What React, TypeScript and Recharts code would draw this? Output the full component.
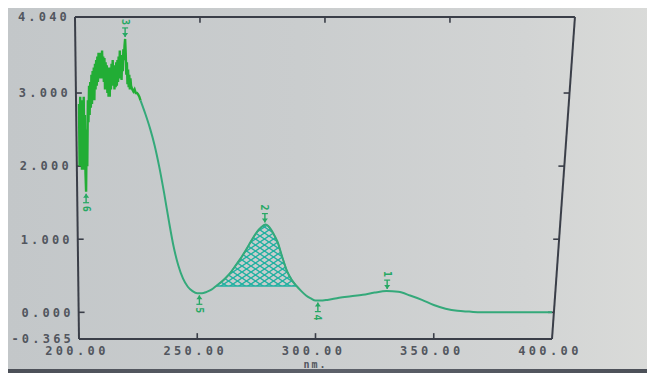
import React from 'react';
import { ComposedChart, Line, Area, Scatter, XAxis, YAxis, ReferenceLine } from 'recharts';

// ---- data ----
const noisyNm = [
  200, 200.25, 200.5, 200.75, 201, 201.25, 201.5, 201.75, 202, 202.25, 202.5, 202.75, 203, 203.25, 203.5, 203.75,
  204, 204.25, 204.5, 204.75, 205, 205.25, 205.5, 205.75, 206, 206.25, 206.5, 206.75,
  207, 207.25, 207.5, 207.75, 208, 208.25, 208.5, 208.75, 209, 209.25, 209.5, 209.75, 210, 210.25, 210.5, 210.75,
  211, 211.25, 211.5, 211.75, 212, 212.25, 212.5, 212.75, 213, 213.25, 213.5, 213.75,
  214, 214.25, 214.5, 214.75, 215, 215.25, 215.5, 215.75, 216, 216.25, 216.5, 216.75,
  217, 217.25, 217.5, 217.75, 218, 218.25, 218.5, 218.75, 219, 219.25, 219.5, 219.75,
  220, 220.25, 220.5, 220.75, 221, 221.25, 221.5, 221.75,
  222, 222.5, 223, 223.5, 224, 224.5, 225, 225.5, 226,
];
const noisyAbs = [
  2.85, 2.0, 2.95, 2.05, 2.8, 1.95, 2.9, 2.1, 2.95, 1.95, 2.7, 1.9, 1.65, 2.5, 2.0, 2.9,
  2.6, 3.1, 2.7, 3.15, 2.8, 3.25, 2.85, 3.3, 2.95, 3.35, 2.9, 3.4,
  3.05, 3.45, 3.1, 3.5, 3.15, 3.55, 3.2, 3.45, 3.25, 3.55, 3.2, 3.58, 3.3, 3.5, 3.15, 3.48,
  3.05, 3.42, 3.1, 3.38, 3.0, 3.35, 2.95, 3.3, 2.95, 3.35, 3.05, 3.4,
  3.1, 3.45, 3.15, 3.38, 3.05, 3.35, 3.08, 3.42, 3.1, 3.45, 3.15, 3.5,
  3.2, 3.58, 3.25, 3.52, 3.18, 3.5, 3.3, 3.6, 3.45, 3.65, 3.74, 3.55,
  3.25, 3.42, 3.12, 3.32, 3.08, 3.25, 3.05, 3.2,
  3.1, 3.05, 3.02, 3.05, 3.0, 3.0, 2.98, 2.95, 2.9,
];

const smoothNm = [
  226, 228, 230, 232, 234, 236, 238, 240, 242, 244, 246, 248, 250, 252, 254, 256, 258, 260, 262, 264,
  266, 268, 270, 272, 274, 276, 278, 279, 280, 282, 284, 286, 288, 290, 292, 294, 296, 298, 300, 302,
  305, 310, 315, 320, 325, 330, 335, 340, 345, 350, 355, 360, 365, 370, 380, 390, 400,
];
const smoothAbs = [
  2.9, 2.72, 2.52, 2.28, 1.98, 1.63, 1.25, 0.9, 0.64, 0.46, 0.35, 0.29, 0.26, 0.26, 0.28, 0.31, 0.36, 0.41, 0.47, 0.54,
  0.63, 0.72, 0.82, 0.93, 1.04, 1.13, 1.19, 1.2, 1.18, 1.09, 0.96, 0.75, 0.56, 0.44, 0.36, 0.29, 0.23, 0.19, 0.16, 0.16,
  0.17, 0.2, 0.22, 0.24, 0.27, 0.29, 0.28, 0.23, 0.17, 0.1, 0.05, 0.02, 0.01, 0.0, 0.0, 0.0, 0.0,
];

// integrated (hatched) band
const bandStart = 258;
const bandEnd = 292;
const bandBase = 0.36;

// peak / valley markers
const markNm = [219.5, 278.6, 330.3, 203, 250.9, 301];
const markAbs = [3.74, 1.2, 0.29, 1.65, 0.26, 0.16];
const markLabel = ['3', '2', '1', '6', '5', '4'];
const markDir = ['up', 'up', 'up', 'down', 'down', 'down'];

const xTicks = [200, 250, 300, 350, 400];
const yTicks = [-0.365, 0, 1, 2, 3, 4.04];
const xMin = 200, xMax = 400, yMin = -0.365, yMax = 4.04;

// ---- derived tables ----
const noisyData = noisyNm.map((nm, i) => ({ nm, abs: noisyAbs[i] }));
const smoothData = smoothNm.map((nm, i) => ({ nm, abs: smoothAbs[i] }));
const bandData = smoothData
  .filter((d) => d.nm >= bandStart && d.nm <= bandEnd)
  .map((d) => ({ nm: d.nm, range: [bandBase, d.abs] }));
const markData = markNm.map((nm, i) => ({ nm, abs: markAbs[i], label: markLabel[i], dir: markDir[i] }));

// photo perspective of the frame (in axis units)
const leftLean = -1.7;
const rightLean = 9.7;
const frac = (v: number) => (v - yMin) / (yMax - yMin);
const leftX = (v: number) => xMin + leftLean * frac(v);
const rightX = (v: number) => xMax + rightLean * frac(v);
const topX = (n: number) => xMin + leftLean + (n - xMin) * ((xMax + rightLean - (xMin + leftLean)) / (xMax - xMin));

const FRAME = '#3a3e48';
const TEXT = '#52565e';
const FONT = '"DejaVu Sans Mono", monospace';

const YTick = (props: any) => {
  const { x, y, payload } = props;
  const v = payload.value as number;
  const shift = 4 * frac(v);
  return (
    <text x={x - 5 - shift} y={y} dy={4.3} textAnchor="end" fill={TEXT} fontFamily={FONT} fontSize={12} fontWeight={700} letterSpacing={3.2}>
      {v.toFixed(3)}
    </text>
  );
};

const XTick = (props: any) => {
  const { x, y, payload } = props;
  const v = payload.value as number;
  return (
    <text x={x - 2} y={y} dy={16} textAnchor="middle" fill={TEXT} fontFamily={FONT} fontSize={12} fontWeight={700} letterSpacing={3.4}>
      {v.toFixed(2)}
    </text>
  );
};

const MARK = '#27a864';
const PeakMark = (props: any) => {
  const { cx, cy, payload } = props;
  if (cx == null || cy == null) return null;
  const up = payload.dir === 'up';
  const s = up ? -1 : 1;
  const tip = cy + s * 2;
  const tail = cy + s * 11;
  const ly = cy + s * 17;
  return (
    <g>
      <line x1={cx} y1={tail} x2={cx} y2={tip} stroke={MARK} strokeWidth={1.4} />
      <line x1={cx - 3} y1={tail} x2={cx + 3} y2={tail} stroke={MARK} strokeWidth={1.2} />
      <polygon points={`${cx - 3},${tip + s * 4} ${cx + 3},${tip + s * 4} ${cx},${tip}`} fill={MARK} />
      <text
        x={cx}
        y={ly}
        dy={3.5}
        textAnchor="middle"
        fontFamily={FONT}
        fontSize={10}
        fontWeight={700}
        fill={MARK}
        transform={`rotate(90, ${cx}, ${ly})`}
      >
        {payload.label}
      </text>
    </g>
  );
};

const seg = (x1: number, y1: number, x2: number, y2: number, key: string, w = 2) => (
  <ReferenceLine
    key={key}
    segment={[{ x: x1, y: y1 }, { x: x2, y: y2 }]}
    stroke={FRAME}
    strokeWidth={w}
    ifOverflow="visible"
  />
);

export default function App() {
  const tickV = 0.08;
  const tickH = 2.5;
  const frame = [
    seg(xMin, yMin, xMax, yMin, 'b'),
    seg(xMin, yMin, leftX(yMax), yMax, 'l'),
    seg(leftX(yMax), yMax, rightX(yMax), yMax, 't'),
    seg(xMax, yMin, rightX(yMax), yMax, 'r'),
    ...[250, 300, 350].map((n) => seg(n, yMin, n, yMin + tickV, 'bt' + n, 1.6)),
    ...[250, 300, 350].map((n) => seg(topX(n), yMax, topX(n), yMax - tickV, 'tt' + n, 1.6)),
    ...[0, 1, 2, 3].map((v) => seg(leftX(v), v, leftX(v) + tickH, v, 'lt' + v, 1.6)),
    ...[0, 1, 2, 3].map((v) => seg(rightX(v), v, rightX(v) - tickH, v, 'rt' + v, 1.6)),
  ];

  return (
    <div
      style={{
        position: 'relative',
        width: 647,
        height: 365,
        background: 'linear-gradient(to right, #c3c7c9 0%, #cacdce 45%, #d2d4d4 80%, #dadbd9 100%)',
        overflow: 'hidden',
      }}
    >
      <ComposedChart width={647} height={365} margin={{ top: 9, right: 103, bottom: 0, left: 0 }}>
        <defs>
          <pattern id="hatch" patternUnits="userSpaceOnUse" width="9" height="6">
            <path d="M0,0 L9,6 M9,0 L0,6" stroke="#1fb0a0" strokeWidth={1.4} fill="none" />
          </pattern>
        </defs>
        <XAxis
          dataKey="nm"
          type="number"
          domain={[xMin, xMax]}
          ticks={xTicks}
          interval={0}
          axisLine={false}
          tickLine={false}
          tickSize={0}
          tickMargin={0}
          height={34}
          tick={<XTick />}
          allowDuplicatedCategory={false}
          label={{ value: 'nm.', position: 'insideBottom', offset: 5, fill: TEXT, fontFamily: FONT, fontSize: 10, fontWeight: 700, letterSpacing: 2 }}
        />
        <YAxis
          type="number"
          domain={[yMin, yMax]}
          ticks={yTicks}
          interval={0}
          axisLine={false}
          tickLine={false}
          tickSize={0}
          tickMargin={0}
          width={71}
          tick={<YTick />}
        />
        {frame}
        <Area
          data={bandData}
          dataKey="range"
          type="linear"
          fill="url(#hatch)"
          fillOpacity={1}
          stroke="#1fb0a0"
          strokeWidth={1.4}
          isAnimationActive={false}
          dot={false}
          activeDot={false}
        />
        <Line
          data={noisyData}
          dataKey="abs"
          type="linear"
          stroke="#22ad35"
          strokeWidth={2.4}
          dot={false}
          activeDot={false}
          isAnimationActive={false}
        />
        <Line
          data={smoothData}
          dataKey="abs"
          type="monotone"
          stroke="#34a97a"
          strokeWidth={2}
          dot={false}
          activeDot={false}
          isAnimationActive={false}
        />
        <Scatter data={markData} dataKey="abs" shape={(p: any) => <PeakMark {...p} />} isAnimationActive={false} />
      </ComposedChart>
      <div
        style={{
          position: 'absolute',
          left: 0,
          bottom: 0,
          width: 647,
          height: 4,
          background: 'linear-gradient(to right, #4c5058, #5d616a 50%, #4c5058)',
        }}
      />
    </div>
  );
}
